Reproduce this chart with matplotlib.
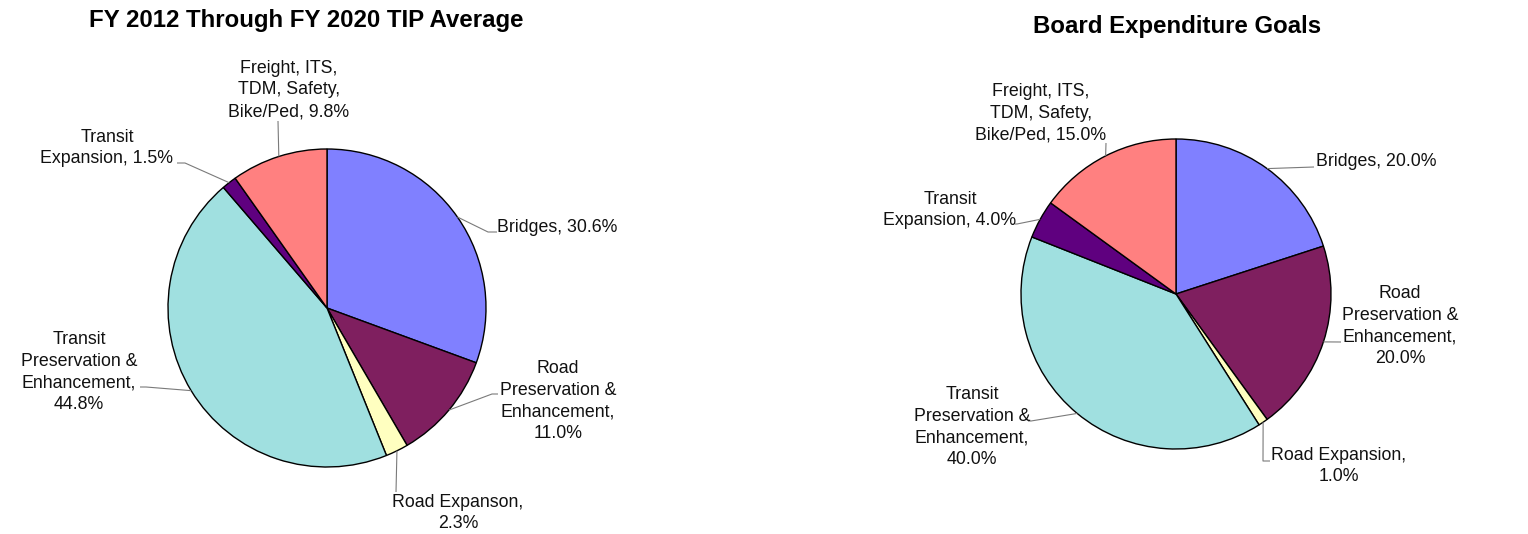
import matplotlib
matplotlib.use("Agg")
import matplotlib.pyplot as plt
import numpy as np

# ---------------- data ----------------
categories = ["Bridges", "Road Preservation & Enhancement", "Road Expansion",
              "Transit Preservation & Enhancement", "Transit Expansion",
              "Freight, ITS, TDM, Safety, Bike/Ped"]
tip_values = [30.6, 11.0, 2.3, 44.8, 1.5, 9.8]
goal_values = [20.0, 20.0, 1.0, 40.0, 4.0, 15.0]
tip_labels = ["Bridges, 30.6%",
              "Road\nPreservation &\nEnhancement,\n11.0%",
              "Road Expanson,\n2.3%",
              "Transit\nPreservation &\nEnhancement,\n44.8%",
              "Transit\nExpansion, 1.5%",
              "Freight, ITS,\nTDM, Safety,\nBike/Ped, 9.8%"]
goal_labels = ["Bridges, 20.0%",
               "Road\nPreservation &\nEnhancement,\n20.0%",
               "Road Expansion,\n1.0%",
               "Transit\nPreservation &\nEnhancement,\n40.0%",
               "Transit\nExpansion, 4.0%",
               "Freight, ITS,\nTDM, Safety,\nBike/Ped, 15.0%"]
titles = ["FY 2012 Through FY 2020 TIP Average", "Board Expenditure Goals"]
colors = ["#8080FF", "#7F1F5F", "#FFFFC0", "#A0E0E0", "#5F007F", "#FF8080"]

# ---------------- layout (pixel units, y measured from top) ----------------
W, H = 1528, 534
plt.rcParams['font.family'] = ['Liberation Sans', 'DejaVu Sans']

fig = plt.figure(figsize=(W / 100, H / 100), dpi=100)
ax = fig.add_axes([0, 0, 1, 1])

def P(x, y):
    return x, H - y

charts = [
    dict(values=tip_values, labels=tip_labels, title=titles[0],
         center=(327, 308), radius=159, title_pos=(306, 21),
         text_pos=[(497, 228, 'left'), (558, 401, 'center'), (458, 513, 'center'),
                   (79, 372, 'center'), (107, 148, 'center'), (289, 90, 'center')],
         leaders=[[(488, 232), (497, 232)],
                  [(492, 394), (498, 394)],
                  [(396, 492)],
                  [(146, 387), (140, 387)],
                  [(185, 163), (177, 163)],
                  [(278, 121)]]),
    dict(values=goal_values, labels=goal_labels, title=titles[1],
         center=(1176, 294), radius=155, title_pos=(1177, 27),
         text_pos=[(1316, 162, 'left'), (1400, 326, 'center'), (1339, 466, 'center'),
                   (972, 427, 'center'), (950, 210, 'center'), (1041, 113, 'center')],
         leaders=[[(1314, 167)],
                  [(1341, 342)],
                  [(1263, 461), (1270, 461)],
                  [(1031, 421), (1028, 421)],
                  [(1017, 224), (1015, 224)],
                  [(1106, 143)]]),
]

for ch in charts:
    cx, cy = ch['center']
    r = ch['radius']
    wedges, _ = ax.pie(ch['values'], colors=colors, startangle=90, counterclock=False,
                       center=P(cx, cy), radius=r,
                       wedgeprops=dict(edgecolor='black', linewidth=1.0))
    for w, lab, tp, ld in zip(wedges, ch['labels'], ch['text_pos'], ch['leaders']):
        mid = np.deg2rad((w.theta1 + w.theta2) / 2)
        ex = cx + r * np.cos(mid)
        ey = cy - r * np.sin(mid)
        pts = [(ex, ey)] + ld
        xs = [p[0] for p in pts]
        ys = [H - p[1] for p in pts]
        ax.plot(xs, ys, color='#7a7a7a', lw=0.8, solid_capstyle='butt')
        tx, ty, ha = tp
        ax.text(tx, H - ty, lab, ha=ha, va='center', multialignment='center',
                fontsize=12.8, linespacing=1.36, color='#111111')
    tx, ty = ch['title_pos']
    ax.text(tx, H - ty, ch['title'], ha='center', va='center',
            fontsize=17.3, fontweight='bold', color='black')

ax.set_xlim(0, W)
ax.set_ylim(0, H)
ax.set_aspect('auto')
ax.axis('off')

fig.savefig("out.png", dpi=100, facecolor='white')
